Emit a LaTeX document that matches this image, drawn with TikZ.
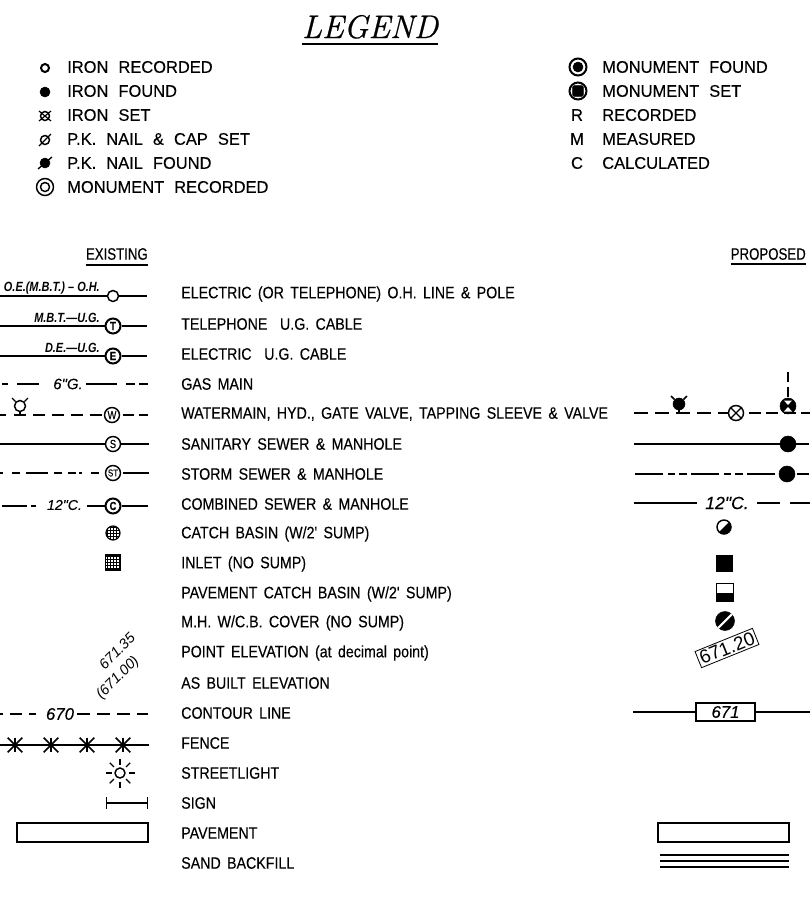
\documentclass[tikz,border=0pt]{standalone}
\usepackage{fontspec}
\setmainfont{Liberation Sans}
\newfontfamily\listfont[WordSpace=2.2,FakeStretch=0.98,FakeBold=0.25]{Liberation Sans}
\newfontfamily\rowfont[WordSpace=1.6,FakeStretch=0.86,FakeBold=0.25]{Liberation Sans}
\newfontfamily\headfont[FakeStretch=0.8,FakeBold=0.25]{Liberation Sans}
\newfontfamily\cablefont[FakeStretch=0.82]{Liberation Sans}
\newfontfamily\linefont[FakeBold=0.3]{Liberation Sans}
\newfontfamily\titlefont[FakeBold=0.6]{Latin Modern Roman}
\tikzset{
    listtext/.style={anchor=west, inner sep=0pt, font=\listfont\fontsize{12.6}{14}\selectfont},
    rowtext/.style={anchor=west, inner sep=0pt, font=\rowfont\fontsize{12.4}{14}\selectfont},
    headtext/.style={inner sep=0pt, font=\headfont\fontsize{12.4}{14}\selectfont},
    linetext/.style={inner sep=0pt, font=\linefont\itshape\fontsize{#1}{14}\selectfont},
    cabletext/.style={anchor=east, inner sep=0pt, font=\cablefont\bfseries\itshape\fontsize{10}{11}\selectfont},
    wire/.style={line width=1.1pt},
    ring/.style={draw, circle, fill=white, line width=1.1pt, inner sep=0pt, minimum size=#1*0.75pt},
    dot/.style={draw, circle, fill=black, inner sep=0pt, minimum size=#1*0.75pt},
    mhtext/.style={ring=15, font=\headfont\fontsize{8.8}{9}\selectfont},
    block/.style={draw, rectangle, fill=white, line width=1.1pt, inner sep=0pt, minimum width=#1*0.75pt, minimum height=14pt},
    fencepost/.style={inner sep=0pt, minimum size=10.5pt}
}
\begin{document}
\begin{tikzpicture}[x=0.75pt,y=-0.75pt]
    \useasboundingbox (0,0) rectangle (810,897);

    % Title
    \node[inner sep=0pt, anchor=base, font=\titlefont\itshape\fontsize{24.5}{30}\selectfont] (legend) at (370,38) {LEGEND};
    \draw[line width=1.5pt] (legend.west |- 0,43.5) -- (legend.east |- 0,43.5);

    % Survey marks, left
    \node[ring=8, line width=1.5pt] (ironrec) at (45,68) {};
    \node[listtext] (ironrectext) at (67,67) {IRON RECORDED};
    \node[dot=10] (ironfnd) at (45,92) {};
    \node[listtext] (ironfndtext) at (67,91) {IRON FOUND};
    \node[ring=9] (ironset) at (45,116) {};
    \draw[line width=0.9pt] (39,111) -- (51,121) (39,121) -- (51,111);
    \node[listtext] (ironsettext) at (67,115) {IRON SET};
    \node[ring=9] (nailset) at (45,140) {};
    \draw[line width=0.9pt] (39,146) -- (51,134);
    \node[listtext] (nailsettext) at (67,139) {P.K. NAIL \& CAP SET};
    \node[dot=10] (nailfnd) at (45,163) {};
    \draw[line width=1pt] (38,169) -- (52,157);
    \node[listtext] (nailfndtext) at (67,163) {P.K. NAIL FOUND};
    \node[ring=17] (monrec) at (45,187) {};
    \node[ring=9] (monrecin) at (45,187) {};
    \node[listtext] (monrectext) at (67,187) {MONUMENT RECORDED};

    % Survey marks, right
    \node[ring=17, line width=1.5pt] (monfnd) at (578,67) {};
    \node[dot=10] (monfndin) at (578,67) {};
    \node[listtext] (monfndtext) at (602,67) {MONUMENT FOUND};
    \node[ring=17, line width=1.5pt] (monset) at (578,91) {};
    \node[draw, fill=black, inner sep=0pt, minimum size=8pt, rounded corners=1pt] (monsetin) at (578,91) {};
    \node[listtext] (monsettext) at (602,91) {MONUMENT SET};
    \node[listtext, anchor=center] (rmark) at (577,115) {R};
    \node[listtext] (rtext) at (602,115) {RECORDED};
    \node[listtext, anchor=center] (mmark) at (577,139) {M};
    \node[listtext] (mtext) at (602,139) {MEASURED};
    \node[listtext, anchor=center] (cmark) at (577,163) {C};
    \node[listtext] (ctext) at (602,163) {CALCULATED};

    % Column heads
    \node[headtext, anchor=east] (existing) at (148,254) {EXISTING};
    \draw[wire] (existing.west |- 0,265) -- (existing.east |- 0,265);
    \node[headtext, anchor=east] (proposed) at (806,254) {PROPOSED};
    \draw[wire] (proposed.west |- 0,264) -- (proposed.east |- 0,264);

    % Row labels
    \foreach \y/\t/\n in {294/{ELECTRIC (OR TELEPHONE) O.H. LINE \& POLE}/a,
        324/{TELEPHONE\space\space U.G. CABLE}/b,
        354/{ELECTRIC\space\space U.G. CABLE}/c,
        384/{GAS MAIN}/d,
        414/{WATERMAIN, HYD., GATE VALVE, TAPPING SLEEVE \& VALVE}/e,
        444/{SANITARY SEWER \& MANHOLE}/f,
        474/{STORM SEWER \& MANHOLE}/g,
        504/{COMBINED SEWER \& MANHOLE}/h,
        534/{CATCH BASIN (W/2' SUMP)}/i,
        564/{INLET (NO SUMP)}/j,
        594/{PAVEMENT CATCH BASIN (W/2' SUMP)}/k,
        623/{M.H. W/C.B. COVER (NO SUMP)}/l,
        653/{POINT ELEVATION (at decimal point)}/m,
        683/{AS BUILT ELEVATION}/n,
        713/{CONTOUR LINE}/o,
        743/{FENCE}/p,
        773/{STREETLIGHT}/q,
        803/{SIGN}/r,
        833/{PAVEMENT}/s,
        863/{SAND BACKFILL}/t}
        \node[rowtext] (row\n) at (181,\y) {\t};

    % Existing: cables
    \coordinate (oha) at (0,296);
    \coordinate (ohb) at (147,296);
    \node[ring=11] (ohpole) at (113,296) {};
    \draw[wire] (oha) -- (ohpole) -- (ohb);
    \node[cabletext] (ohtext) at (100,288) {O.E.(M.B.T.) – O.H.};
    \coordinate (tela) at (0,326);
    \coordinate (telb) at (147,326);
    \node[mhtext, line width=1.5pt] (telmh) at (113,326) {\textbf{T}};
    \draw[wire] (tela) -- (telmh) -- (telb);
    \node[cabletext] (teltext) at (100,318) {M.B.T.—U.G.};
    \coordinate (eleca) at (0,356);
    \coordinate (elecb) at (147,356);
    \node[mhtext, line width=1.5pt] (elecmh) at (113,356) {\textbf{E}};
    \draw[wire] (eleca) -- (elecmh) -- (elecb);
    \node[cabletext] (electext) at (100,348) {D.E.—U.G.};

    % Existing: gas
    \node[linetext=11.2] (gastext) at (68,384) {6"G.};
    \coordinate (gasa) at (2,384);
    \coordinate (gasb) at (39,384);
    \coordinate (gasc) at (86,384);
    \coordinate (gasd) at (148,384);
    \draw[wire, dash pattern=on 4.5pt off 6.75pt on 16.5pt off 1pt] (gasa) -- (gasb);
    \draw[wire, dash pattern=on 23.25pt off 6.75pt on 6.75pt off 3pt on 6.75pt off 1pt] (gasc) -- (gasd);

    % Existing: water
    \node[ring=11] (hydex) at (20,406) {};
    \coordinate (hydexl) at (14,415);
    \coordinate (hydexr) at (26,415);
    \draw[wire] (hydex) -- (20,415) (hydexl) -- (hydexr);
    \draw[line width=0.9pt] (hydex.north west) -- (12,398) (hydex.north east) -- (28,398);
    \node[mhtext] (watmh) at (112,415) {W};
    \coordinate (wata) at (33,415);
    \coordinate (watb) at (148,415);
    \coordinate (watz) at (0,415);
    \draw[wire] (watz) -- (6,415);
    \draw[wire, dash pattern=on 9pt off 5.25pt] (wata) -- (watmh);
    \draw[wire, dash pattern=on 8.25pt off 3.75pt] (watmh.east) ++(3,0) -- (watb);

    % Existing: sewers
    \coordinate (sana) at (0,444);
    \coordinate (sanb) at (149,444);
    \node[mhtext] (sanmh) at (113,444) {S};
    \draw[wire] (sana) -- (sanmh) -- (sanb);
    \coordinate (stoa) at (0,473);
    \coordinate (stob) at (149,473);
    \node[mhtext, font=\headfont\fontsize{7.5}{8}\selectfont] (stomh) at (113,473) {ST};
    \draw[wire, dash pattern=on 2pt off 7pt on 6pt off 4.5pt on 16.5pt off 4.5pt on 6pt off 4.5pt on 6pt off 2.5pt] (stoa) -- (stomh);
    \draw[wire] (123,473) -- (stob);
    \node[linetext=10.6] (comtext) at (64.5,505) {12"C.};
    \coordinate (coma) at (2,506);
    \coordinate (comb) at (36,506);
    \coordinate (comc) at (87,506);
    \coordinate (comd) at (148,506);
    \node[mhtext, line width=1.5pt] (commh) at (113,506) {\textbf{C}};
    \draw[wire, dash pattern=on 18.75pt off 3pt on 5.25pt off 1pt] (coma) -- (comb);
    \draw[wire] (comc) -- (commh) -- (comd);

    % Existing: basins
    \node[circle, draw, line width=0.9pt, inner sep=0pt, minimum size=10.5pt, path picture={
        \foreach \g in {-6,-3,...,6} {
            \draw[line width=0.45pt] (\g,-9) -- (\g,9);
            \draw[line width=0.45pt] (-9,\g) -- (9,\g);
        }}] (cbex) at (113,533) {};
    \node[rectangle, draw, line width=0.9pt, inner sep=0pt, minimum size=11.25pt, path picture={
        \foreach \g in {-6,-3,...,6} {
            \draw[line width=0.45pt] (\g,-9) -- (\g,9);
            \draw[line width=0.45pt] (-9,\g) -- (9,\g);
        }}] (inletex) at (113,562.5) {};

    % Existing: elevations
    \node[rotate=45, inner sep=0pt, font=\itshape\fontsize{10.8}{12}\selectfont] (elevex) at (117,651) {671.35};
    \node[rotate=45, inner sep=0pt, font=\itshape\fontsize{10.8}{12}\selectfont] (builtex) at (118,678) {(671.00)};

    % Existing: contour
    \node[linetext=12.6] (contex) at (60,714) {670};
    \coordinate (conta) at (-4,714);
    \coordinate (contb) at (39,714);
    \coordinate (contc) at (77,714);
    \coordinate (contd) at (148,714);
    \draw[wire, dash pattern=on 5.25pt off 5.25pt on 9pt off 5.25pt] (conta) -- (contb);
    \draw[wire, dash pattern=on 9.75pt off 5.25pt] (contc) -- (contd);

    % Existing: fence
    \coordinate (fencea) at (0,745);
    \coordinate (fenceb) at (149,745);
    \draw[wire] (fencea) -- (fenceb);
    \foreach \x/\n in {15/a,51/b,87/c,123/d} {
        \node[fencepost] (post\n) at (\x,745) {};
        \draw[line width=1.1pt] (post\n.north west) -- (post\n.south east);
        \draw[line width=1.1pt] (post\n.north east) -- (post\n.south west);
        \draw[line width=1.1pt] (post\n.north) -- (post\n.south);
    }

    % Existing: streetlight
    \node[ring=10] (lamp) at (120,773) {};
    \foreach \a in {0,45,...,315}
        \draw[line width=0.9pt] (lamp) ++(\a:8.5) -- ++(\a:6);

    % Existing: sign
    \coordinate (signa) at (106,803);
    \coordinate (signb) at (148,803);
    \draw[wire, |-|] (signa) -- (signb);

    % Pavement
    \node[block=131] (pavex) at (82.5,832.5) {};
    \node[block=131] (pavpr) at (723.5,832.5) {};

    % Proposed: water
    \coordinate (prwata) at (634,413);
    \coordinate (prwatb) at (810,413);
    \node[dot=12] (prhyd) at (679,404) {};
    \coordinate (prhydl) at (672,413);
    \coordinate (prhydr) at (685,413);
    \draw[line width=1.2pt] (prhyd) -- (679,413);
    \draw[line width=1.2pt] (prhyd.north west) -- (671,396) (prhyd.north east) -- (687,396);
    \node[ring=15] (prgate) at (736,413) {};
    \node[dot=16] (prtap) at (788,406) {};
    \draw[wire, dash pattern=on 10.5pt off 5.25pt] (prwata) -- (prgate);
    \draw[wire, dash pattern=on 9pt off 4pt] (prgate) ++(13,0) -- (prwatb);
    \draw[line width=0.9pt] (prgate.north west) -- (prgate.south east) (prgate.north east) -- (prgate.south west);
    \fill[white] (784,400.5) -- (792,400.5) -- (788,405) -- cycle;
    \fill[white] (784,411.5) -- (792,411.5) -- (788,407) -- cycle;
    \coordinate (prtapup) at (788,372);
    \draw[wire, dash pattern=on 7.5pt off 3.75pt] (prtapup) -- (prtap);

    % Proposed: sewers
    \coordinate (prsana) at (634,444);
    \coordinate (prsanb) at (809,444);
    \node[dot=16] (prsanmh) at (788,444) {};
    \draw[wire] (prsana) -- (prsanmh) -- (prsanb);
    \coordinate (prstoa) at (635,474);
    \coordinate (prstob) at (809,474);
    \node[dot=16] (prstomh) at (787,474) {};
    \draw[wire, dash pattern=on 21pt off 3.75pt on 5.25pt off 3pt on 6pt off 3pt] (prstoa) -- (prstomh);
    \draw[wire] (797,474) -- (prstob);
    \node[linetext=13.2] (prcomtext) at (727,503) {12"C.};
    \coordinate (prcoma) at (634,503);
    \coordinate (prcomb) at (697,503);
    \coordinate (prcomc) at (757,503);
    \coordinate (prcomd) at (810,503);
    \draw[wire] (prcoma) -- (prcomb);
    \draw[wire, dash pattern=on 17.25pt off 7.5pt on 15pt] (prcomc) -- (prcomd);

    % Proposed: basins
    \node[circle, draw, line width=1.1pt, fill=white, inner sep=0pt, minimum size=10.5pt, path picture={
        \fill[black] (9,-9) -- (-9,9) -- (9,9) -- cycle;}] (cbpr) at (724,527) {};
    \node[draw, fill=black, inner sep=0pt, minimum size=12pt] (inletpr) at (724,563) {};
    \node[draw, line width=1.1pt, fill=white, inner sep=0pt, minimum width=13pt, minimum height=13.5pt, path picture={
        \fill[black] (-12,0) rectangle (12,12);}] (pcbpr) at (725,592.5) {};
    \node[dot=19] (mhpr) at (725,621) {};
    \draw[white, line width=1.6pt] (718,628) -- (732,614);

    % Proposed: elevation
    \node[draw, rotate=22, inner sep=1.5pt, line width=0.6pt, font=\fontsize{14.2}{15}\selectfont] (elevpr) at (727,648) {671.20};

    % Proposed: contour
    \coordinate (prconta) at (633,712);
    \coordinate (prcontb) at (810,712);
    \node[draw, line width=1.5pt, inner sep=0pt, minimum width=44pt, minimum height=14pt, linetext=12.6] (prcontbox) at (725.5,712) {\raisebox{-1pt}{671}};
    \draw[wire] (prconta) -- (prcontbox) -- (prcontb);

    % Proposed: sand
    \foreach \y/\n in {855/a,861/b,867/c} {
        \coordinate (sand\n a) at (660,\y);
        \coordinate (sand\n b) at (789,\y);
        \draw[line width=0.9pt] (sand\n a) -- (sand\n b);
    }
\end{tikzpicture}
\end{document}
